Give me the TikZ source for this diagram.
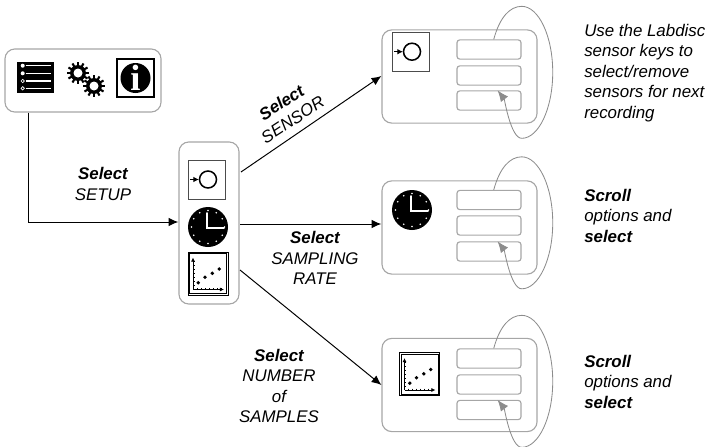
\documentclass[tikz,border=0pt]{standalone}
\usepackage{fontspec}
\setmainfont{Liberation Sans}
\newfontfamily\iconfont{Liberation Serif}
\usetikzlibrary{arrows.meta,calc}
\definecolor{boxgray}{HTML}{A6A6A6}
\definecolor{loopgray}{HTML}{8C8C8C}
\tikzset{
         x=0.025cm,y=-0.025cm,
         roundbox/.style={draw=boxgray,line width=0.8pt,rounded corners=7pt,inner sep=0pt},
         optionbox/.style={draw=boxgray,line width=0.8pt,rounded corners=2pt,inner sep=0pt,
                           minimum width=1.6cm,minimum height=0.48cm},
         screenbox/.style={roundbox,minimum width=3.875cm,minimum height=2.33cm},
         flowline/.style={line width=0.7pt,-{Latex[length=7pt,width=6pt]}},
         loopline/.style={draw=loopgray,line width=0.6pt},
         looptip/.style={-{Latex[length=8pt,width=6.5pt]},draw=loopgray},
         caption/.style={font=\fontsize{12}{14.5}\selectfont\itshape,align=left,anchor=north west,inner sep=0pt},
         steplabel/.style={font=\fontsize{12}{14.5}\selectfont\itshape,align=center,inner sep=0pt},
         pics/sensoricon/.style={code={
             \draw[draw=black!70,line width=0.6pt,fill=white] (-18.5,-19.5) rectangle (18.5,19.5);
             \draw[line width=1.1pt] (1.5,0) circle (8.5);
             \draw[line width=1pt,-{Latex[length=4pt,width=4pt]}] (-16.5,0) -- (-7.5,0);
           }},
         pics/clockicon/.style={code={
             \fill[black] (0,0) circle (20);
             \foreach \a in {0,30,...,330}
               \fill[white] (\a:16.5) circle (0.9);
             \draw[white,line width=1.4pt,line cap=round] (-1,-14) -- (-1,1) -- (16,1);
           }},
         pics/graphicon/.style={code={
             \draw[line width=0.6pt,fill=white] (-20,-21.5) rectangle (20,21.5);
             \draw[line width=0.3pt] (-18.5,-20) rectangle (18.5,20);
             \draw[line width=0.6pt,-{Latex[length=3pt,width=3pt]}] (-15,16) -- (-15,-16);
             \draw[line width=0.6pt,-{Latex[length=3pt,width=3pt]}] (-15,16) -- (16,16);
             \foreach \t in {-11,-7,...,13} \draw[line width=0.3pt] (\t,14.5) -- (\t,16);
             \foreach \t in {-12,-8,...,12} \draw[line width=0.3pt] (-15,\t) -- (-13.5,\t);
             \fill (-9.7,9.2) circle (1.9) (-3,3.8) circle (1.9) (4.3,-0.2) circle (1.9) (11.3,-4.5) circle (1.9);
           }},
         pics/gearicon/.style={code={
             \foreach \a in {0,30,...,330}
               \draw[line width=1.5pt] (\a:6) -- (\a:11);
             \fill (0,0) circle (8);
             \fill[white] (0,0) circle (4.5);
           }}
        }
% options of one screen, with the loop round them
\newcommand{\screenloop}[2]{
  \draw[loopline] (#1.65) .. controls +(6,-22) and +(-12,0) .. ++(28,-33)
     .. controls +(17,0) and +(0,-36) .. ++(31,66)
     .. controls +(0,36) and +(17,0) .. ++(-31,66) coordinate (loopend);
  \draw[loopline,looptip] (loopend) .. controls +(-11,0) and +(7,9) .. (#2.50);
}

\begin{document}
\begin{tikzpicture}
      \clip (0,0) rectangle (710,447);
      % Setup box
      \node[roundbox,minimum width=3.9cm,minimum height=1.575cm] (setupbox) at (83,80.5) {};
      \fill (17,62) rectangle (54,93); % list icon
      \fill[white] (22.7,65.7) circle (2) (22.7,73.3) circle (2);
      \draw[white,line width=0.5pt] (22.7,81) circle (1.7) (22.7,88.3) circle (1.7);
      \draw[white,line width=0.8pt] (25.5,65.7) -- (51,65.7) (25.5,73.3) -- (51,73.3) (25.5,81) -- (51,81) (25.5,88.3) -- (51,88.3);
      \pic at (78,73) {gearicon}; % gears
      \pic at (94,86) {gearicon};
      \draw[line width=0.9pt] (117,59) rectangle (154,97); % info icon
      \fill (135.5,78) circle (15);
      \node[text=white,font=\fontsize{26}{26}\selectfont\iconfont\bfseries,inner sep=0pt] (infotext) at (135.5,78) {i};
      % Select box
      \node[roundbox,minimum width=1.5cm,minimum height=4.05cm] (selectbox) at (209,223) {};
      \pic at (206.5,179.5) {sensoricon};
      \pic at (208,227) {clockicon};
      \pic at (208,273.5) {graphicon};
      % Sensor screen
      \node[screenbox] (sensorscreen) at (459.5,76.5) {};
      \pic at (410.5,51.7) {sensoricon};
      \node[optionbox] (sensora) at (489,49.5) {};
      \node[optionbox] (sensorb) at (489,75.5) {};
      \node[optionbox] (sensorc) at (489,100.5) {};
      \screenloop{sensora}{sensorc}
      % Rate screen
      \node[screenbox] (ratescreen) at (459.5,227.5) {};
      \pic at (412,210) {clockicon};
      \node[optionbox] (ratea) at (489,200) {};
      \node[optionbox] (rateb) at (489,225.5) {};
      \node[optionbox] (ratec) at (489,251.5) {};
      \screenloop{ratea}{ratec}
      % Samples screen
      \node[screenbox] (samplescreen) at (459.5,385) {};
      \pic at (419.5,374) {graphicon};
      \node[optionbox] (samplea) at (489,358.5) {};
      \node[optionbox] (sampleb) at (489,384.5) {};
      \node[optionbox] (samplec) at (489,410) {};
      \screenloop{samplea}{samplec}
      % Wiring
      \coordinate (setupdrop) at (28,222);
      \draw[flowline] (setupbox.south -| setupdrop) -- (setupdrop) -- (setupdrop -| selectbox.west);
      \coordinate (sensorfrom) at (241,172);
      \coordinate (ratefrom) at (240,224);
      \coordinate (samplefrom) at (240,270);
      \draw[flowline] (sensorfrom) -- (sensorscreen.west |- 0,76);
      \draw[flowline] (ratefrom) -- (ratefrom -| ratescreen.west);
      \draw[flowline] (samplefrom) -- (samplescreen.west |- 0,385);
      % Labels
      \node[steplabel] (setuplabel) at (103,184) {{\bfseries Select}\\SETUP};
      \node[steplabel,rotate=33] (sensorlabel) at (287,111) {{\bfseries Select}\\SENSOR};
      \node[steplabel] (ratelabel) at (315,258) {{\bfseries Select}\\SAMPLING\\RATE};
      \node[steplabel] (samplelabel) at (279,386) {{\bfseries Select}\\NUMBER\\of\\SAMPLES};
      \node[caption] (sensorcaption) at (584,24) {Use the Labdisc\\sensor keys to\\select/remove\\sensors for next\\recording};
      \node[caption] (ratecaption) at (584,189) {{\bfseries Scroll}\\options and\\{\bfseries select}};
      \node[caption] (samplecaption) at (584,355) {{\bfseries Scroll}\\options and\\{\bfseries select}};
   \end{tikzpicture}
\end{document}
